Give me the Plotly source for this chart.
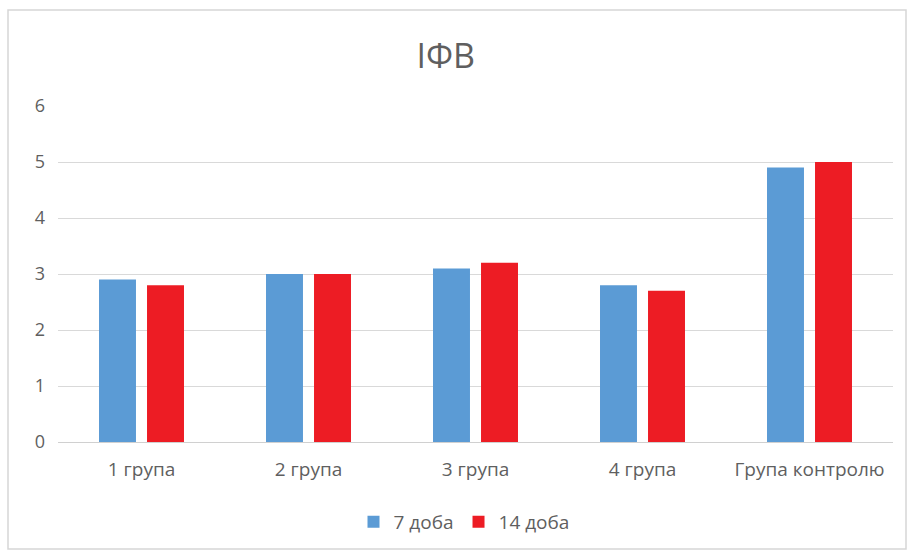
import plotly.graph_objects as go

categories = ["1 група", "2 група", "3 група", "4 група", "Група контролю"]
day7 = [2.9, 3.0, 3.1, 2.8, 4.9]
day14 = [2.8, 3.0, 3.2, 2.7, 5.0]
series_names = ["7 доба", "14 доба"]
title_text = "ІФВ"

W, H = 910, 554
L, R, T, B = 58, 17, 106, 112
pw, ph = W - L - R, H - T - B

def px_x(x):
    return (x - L) / pw

def px_y(y):
    return (H - B - y) / ph

text_color = "#5f5f5f"
font_family = "Open Sans, Liberation Sans, sans-serif"

fig = go.Figure()
fig.add_trace(go.Bar(x=categories, y=day7, name=series_names[0],
                     marker=dict(color="#5B9BD5", line=dict(width=0))))
fig.add_trace(go.Bar(x=categories, y=day14, name=series_names[1],
                     marker=dict(color="#ED1C24", line=dict(width=0))))

fig.update_layout(
    width=W, height=H,
    margin=dict(l=L, r=R, t=T, b=B),
    paper_bgcolor="white", plot_bgcolor="white",
    barmode="group", bargap=0.425, bargroupgap=0.23,
    font=dict(family=font_family, color=text_color, size=18),
    title=dict(text=title_text, x=px_x(467), xanchor="center",
               y=1 - 56 / H, yanchor="middle",
               font=dict(size=34, color=text_color, family=font_family)),
    showlegend=True,
    legend=dict(orientation="h", x=px_x(464), xanchor="center",
                y=px_y(522), yanchor="middle",
                font=dict(size=19, color=text_color),
                itemwidth=30, traceorder="normal"),
    xaxis=dict(showgrid=False, showline=True, linecolor="#d0d0d0", linewidth=1,
               ticks="", ticklabelstandoff=10,
               tickfont=dict(size=19, color=text_color)),
    yaxis=dict(range=[0, 6], dtick=1, showgrid=True, gridcolor="#d9d9d9",
               gridwidth=1, zeroline=False, showline=False, ticks="",
               ticklabelstandoff=12, tickfont=dict(size=18, color=text_color)),
    shapes=[dict(type="rect", xref="paper", yref="paper",
                 x0=px_x(8), x1=px_x(906), y0=px_y(549), y1=px_y(10),
                 line=dict(color="#d6d6d6", width=1.5), layer="below")],
)

fig.write_html("out.html")
